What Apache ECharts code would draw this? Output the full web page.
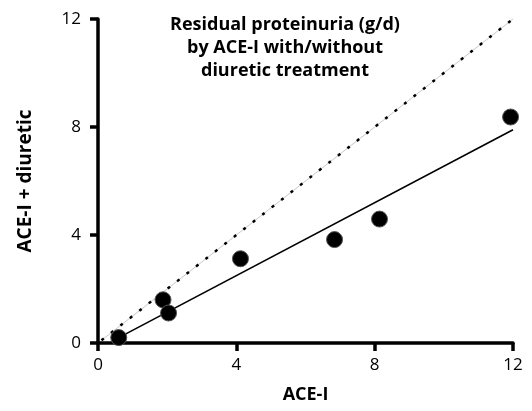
<!DOCTYPE html>
<html>
<head>
<meta charset="utf-8">
<script src="https://cdn.jsdelivr.net/npm/echarts@6/dist/echarts.min.js"></script>
<style>
  html, body { margin: 0; padding: 0; background: #fff; }
  #chart { width: 532px; height: 411px; }
</style>
</head>
<body>
<div id="chart"></div>
<script>
// 数据：ACE-I 单药 vs ACE-I + 利尿剂 的残余蛋白尿
const aceI = [0.6, 1.88, 2.04, 4.12, 6.84, 8.14, 11.93];
const aceIDiuretic = [0.2, 1.6, 1.11, 3.12, 3.83, 4.59, 8.37];
const fitX = [0.6, 12];
const fitY = [0.2, 7.9];
const identity = [0.1, 12];

const font = 'Open Sans';
const chart = echarts.init(document.getElementById('chart'));

// 坐标轴粗线样式
const axisLineStyle = { show: true, lineStyle: { color: '#000', width: 3.5 } };
const axisTickStyle = { show: true, length: 8, lineStyle: { color: '#000', width: 3.5 } };

chart.setOption({
  animation: false,
  title: {
    text: 'Residual proteinuria (g/d)\nby ACE-I with/without\ndiuretic treatment',
    left: 280,
    top: 8,
    textAlign: 'center',
    textStyle: {
      fontFamily: font,
      fontSize: 18,
      fontWeight: 'bold',
      color: '#000',
      lineHeight: 23
    }
  },
  grid: { left: 98, right: 19, top: 19, bottom: 68 },
  xAxis: {
    type: 'value',
    min: 0,
    max: 12,
    interval: 4,
    name: 'ACE-I',
    nameLocation: 'middle',
    nameGap: 43,
    nameTextStyle: { fontFamily: font, fontSize: 18, fontWeight: 'bold', color: '#000' },
    axisLine: axisLineStyle,
    axisTick: axisTickStyle,
    axisLabel: { fontFamily: font, fontSize: 17, color: '#000', margin: 14 },
    splitLine: { show: false }
  },
  yAxis: {
    type: 'value',
    min: 0,
    max: 12,
    interval: 4,
    name: 'ACE-I + diuretic',
    nameLocation: 'middle',
    nameGap: 63,
    nameTextStyle: { fontFamily: font, fontSize: 19, fontWeight: 'bold', color: '#000' },
    axisLine: axisLineStyle,
    axisTick: axisTickStyle,
    axisLabel: { fontFamily: font, fontSize: 17, color: '#000', margin: 17 },
    splitLine: { show: false }
  },
  series: [
    {
      // 等值线（浅灰底线）
      type: 'line',
      data: identity.map((v) => [v, v]),
      symbol: 'none',
      lineStyle: { color: '#c8c8c8', width: 1 },
      z: 1
    },
    {
      // 等值线（黑色短划）
      type: 'line',
      data: identity.map((v) => [v, v]),
      symbol: 'none',
      lineStyle: { color: '#000', width: 2.5, type: [3, 9] },
      z: 2
    },
    {
      // 回归线
      type: 'line',
      data: fitX.map((x, i) => [x, fitY[i]]),
      symbol: 'none',
      lineStyle: { color: '#000', width: 1.6 },
      z: 3
    },
    {
      type: 'scatter',
      data: aceI.map((x, i) => [x, aceIDiuretic[i]]),
      symbol: 'circle',
      symbolSize: 16,
      itemStyle: { color: '#000', borderColor: '#555', borderWidth: 1, opacity: 1 },
      z: 4
    }
  ]
});
</script>
</body>
</html>
